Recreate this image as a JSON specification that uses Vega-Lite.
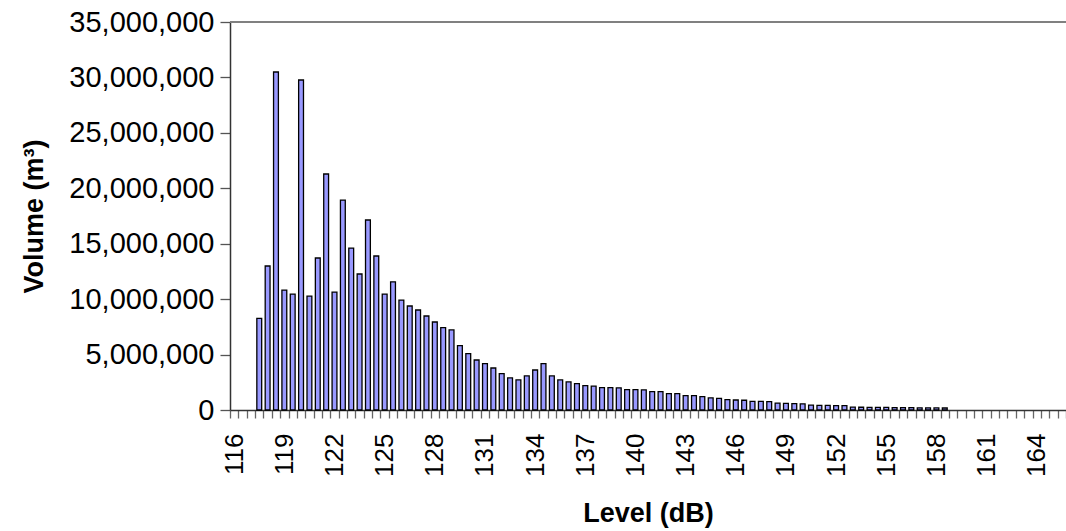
{
  "$schema": "https://vega.github.io/schema/vega-lite/v6.json",
  "width": 836,
  "height": 388,
  "autosize": {"type": "none"},
  "padding": {"left": 230, "top": 22, "right": 0, "bottom": 121},
  "background": "white",
  "config": {
    "view": {"stroke": null},
    "font": "Liberation Sans",
    "axis": {"labelFont": "Liberation Sans", "titleFont": "Liberation Sans", "labelColor": "black", "titleColor": "black", "grid": false, "domainColor": "#333333", "domainWidth": 1.5, "tickWidth": 1.3, "titleFontSize": 27, "titleFontWeight": "bold"},
    "axisY": {"titlePadding": 20, "labelFontSize": 29, "labelPadding": 6, "tickSize": 10, "tickColor": "#555555", "format": ",d", "values": [0, 5000000, 10000000, 15000000, 20000000, 25000000, 30000000, 35000000]},
    "axisX": {"titlePadding": 24, "labelFontSize": 26, "labelAngle": -90, "labelPadding": 15, "labelOverlap": false, "tickBand": "extent", "tickSize": 8, "tickColor": "#666666"}
  },
  "data": {
    "values": [
      {"level": 117.5, "volume": 8270000},
      {"level": 118, "volume": 12990000},
      {"level": 118.5, "volume": 30490000},
      {"level": 119, "volume": 10820000},
      {"level": 119.5, "volume": 10460000},
      {"level": 120, "volume": 29770000},
      {"level": 120.5, "volume": 10280000},
      {"level": 121, "volume": 13710000},
      {"level": 121.5, "volume": 21290000},
      {"level": 122, "volume": 10640000},
      {"level": 122.5, "volume": 18940000},
      {"level": 123, "volume": 14610000},
      {"level": 123.5, "volume": 12270000},
      {"level": 124, "volume": 17140000},
      {"level": 124.5, "volume": 13890000},
      {"level": 125, "volume": 10460000},
      {"level": 125.5, "volume": 11560000},
      {"level": 126, "volume": 9920000},
      {"level": 126.5, "volume": 9380000},
      {"level": 127, "volume": 9020000},
      {"level": 127.5, "volume": 8480000},
      {"level": 128, "volume": 7940000},
      {"level": 128.5, "volume": 7430000},
      {"level": 129, "volume": 7220000},
      {"level": 129.5, "volume": 5800000},
      {"level": 130, "volume": 5080000},
      {"level": 130.5, "volume": 4510000},
      {"level": 131, "volume": 4180000},
      {"level": 131.5, "volume": 3790000},
      {"level": 132, "volume": 3280000},
      {"level": 132.5, "volume": 2890000},
      {"level": 133, "volume": 2710000},
      {"level": 133.5, "volume": 3070000},
      {"level": 134, "volume": 3610000},
      {"level": 134.5, "volume": 4180000},
      {"level": 135, "volume": 3070000},
      {"level": 135.5, "volume": 2710000},
      {"level": 136, "volume": 2530000},
      {"level": 136.5, "volume": 2380000},
      {"level": 137, "volume": 2190000},
      {"level": 137.5, "volume": 2150000},
      {"level": 138, "volume": 2010000},
      {"level": 138.5, "volume": 2010000},
      {"level": 139, "volume": 2000000},
      {"level": 139.5, "volume": 1830000},
      {"level": 140, "volume": 1830000},
      {"level": 140.5, "volume": 1820000},
      {"level": 141, "volume": 1650000},
      {"level": 141.5, "volume": 1650000},
      {"level": 142, "volume": 1470000},
      {"level": 142.5, "volume": 1470000},
      {"level": 143, "volume": 1290000},
      {"level": 143.5, "volume": 1290000},
      {"level": 144, "volume": 1200000},
      {"level": 144.5, "volume": 1100000},
      {"level": 145, "volume": 1050000},
      {"level": 145.5, "volume": 930000},
      {"level": 146, "volume": 900000},
      {"level": 146.5, "volume": 880000},
      {"level": 147, "volume": 780000},
      {"level": 147.5, "volume": 780000},
      {"level": 148, "volume": 750000},
      {"level": 148.5, "volume": 620000},
      {"level": 149, "volume": 600000},
      {"level": 149.5, "volume": 580000},
      {"level": 150, "volume": 560000},
      {"level": 150.5, "volume": 440000},
      {"level": 151, "volume": 420000},
      {"level": 151.5, "volume": 420000},
      {"level": 152, "volume": 400000},
      {"level": 152.5, "volume": 400000},
      {"level": 153, "volume": 260000},
      {"level": 153.5, "volume": 250000},
      {"level": 154, "volume": 240000},
      {"level": 154.5, "volume": 240000},
      {"level": 155, "volume": 230000},
      {"level": 155.5, "volume": 220000},
      {"level": 156, "volume": 220000},
      {"level": 156.5, "volume": 210000},
      {"level": 157, "volume": 200000},
      {"level": 157.5, "volume": 200000},
      {"level": 158, "volume": 190000},
      {"level": 158.5, "volume": 180000}
    ]
  },
  "layer": [
    {
      "mark": {"type": "bar", "width": {"band": 0.58}, "fill": "#9999FF", "stroke": "#000000", "strokeWidth": 1.3},
      "encoding": {
        "x": {
          "field": "level",
          "type": "ordinal",
          "sort": null,
          "scale": {
            "domain": [116,116.5,117,117.5,118,118.5,119,119.5,120,120.5,121,121.5,122,122.5,123,123.5,124,124.5,125,125.5,126,126.5,127,127.5,128,128.5,129,129.5,130,130.5,131,131.5,132,132.5,133,133.5,134,134.5,135,135.5,136,136.5,137,137.5,138,138.5,139,139.5,140,140.5,141,141.5,142,142.5,143,143.5,144,144.5,145,145.5,146,146.5,147,147.5,148,148.5,149,149.5,150,150.5,151,151.5,152,152.5,153,153.5,154,154.5,155,155.5,156,156.5,157,157.5,158,158.5,159,159.5,160,160.5,161,161.5,162,162.5,163,163.5,164,164.5,165,165.5],
            "paddingInner": 0,
            "paddingOuter": 0
          },
          "axis": {
            "title": "Level (dB)",
            "labelExpr": "((datum.value - 116) % 3 == 0) ? datum.label : ''"
          }
        },
        "y": {
          "field": "volume",
          "type": "quantitative",
          "scale": {"domain": [0, 35000000], "nice": false},
          "axis": {"title": "Volume (m³)"}
        }
      }
    },
    {
      "mark": {"type": "rule", "color": "#808080", "strokeWidth": 1.5},
      "encoding": {
        "y": {"datum": 35000000, "type": "quantitative", "axis": {"title": "Volume (m³)"}}
      }
    }
  ]
}
